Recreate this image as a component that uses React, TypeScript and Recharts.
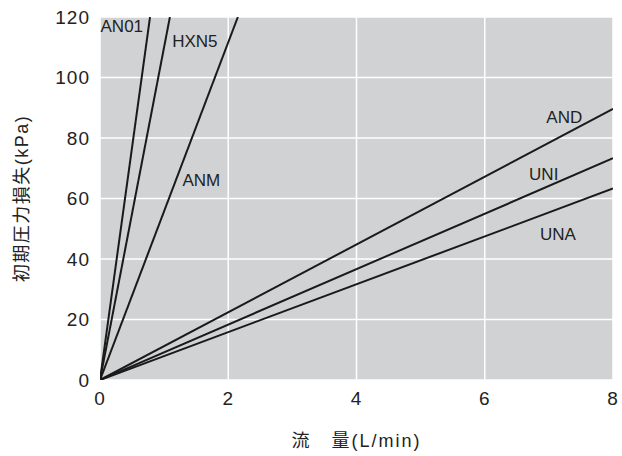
import React from 'react';
import { LineChart, Line, XAxis, YAxis, CartesianGrid, ReferenceDot, Label } from 'recharts';

const xTicks = [0, 2, 4, 6, 8];
const yTicks = [0, 20, 40, 60, 80, 100, 120];

const an01 = [{ x: 0, y: 0 }, { x: 0.78, y: 120 }];
const hxn5 = [{ x: 0, y: 0 }, { x: 1.09, y: 120 }];
const anm = [{ x: 0, y: 0 }, { x: 2.15, y: 120 }];
const andS = [{ x: 0, y: 0 }, { x: 8, y: 89.6 }];
const uni = [{ x: 0, y: 0 }, { x: 8, y: 73.3 }];
const una = [{ x: 0, y: 0 }, { x: 8, y: 63.3 }];

const seriesList = [an01, hxn5, anm, andS, uni, una];

const labelNames = ['AN01', 'HXN5', 'ANM', 'AND', 'UNI', 'UNA'];
const labelX = [0.34, 1.48, 1.58, 7.24, 6.92, 7.14];
const labelY = [117, 112, 66, 87, 68, 48.4];

const FONT = '"Liberation Sans", Arial, sans-serif';
const CJK = '"Liberation Sans", "Noto Sans CJK JP", sans-serif';

export default function App() {
  return (
    <div style={{ position: 'absolute', left: 0, top: 0, width: 622, height: 456, background: '#fff' }}>
      <LineChart width={622} height={456} margin={{ top: 17, right: 9, bottom: 0, left: 0 }}>
        <CartesianGrid fill="#d1d2d4" stroke="#ffffff" strokeWidth={1.5} />
        <XAxis
          type="number"
          dataKey="x"
          domain={[0, 8]}
          ticks={xTicks}
          axisLine={false}
          tickLine={false}
          tickSize={10}
          tickMargin={2}
          height={76}
          tick={{ fill: '#222', fontSize: 19, fontFamily: FONT, letterSpacing: 1 }}
          allowDataOverflow
        >
          <Label value="流　量(L/min)" position="insideBottom" offset={9} style={{ fill: '#222', fontSize: 18, fontFamily: CJK, letterSpacing: 2 }} />
        </XAxis>
        <YAxis
          type="number"
          domain={[0, 120]}
          ticks={yTicks}
          axisLine={false}
          tickLine={false}
          tickSize={8}
          tickMargin={2}
          width={100}
          tick={{ fill: '#222', fontSize: 19, fontFamily: FONT, letterSpacing: 1 }}
          allowDataOverflow
        >
          <Label value="初期圧力損失(kPa)" angle={-90} position="insideLeft" offset={22} style={{ fill: '#222', fontSize: 18, fontFamily: CJK, textAnchor: 'middle', letterSpacing: 1.5 }} />
        </YAxis>
        {seriesList.map((d, i) => (
          <Line key={i} data={d} dataKey="y" type="linear" stroke="#1a1a1a" strokeWidth={2} dot={false} isAnimationActive={false} />
        ))}
        {labelNames.map((n, i) => (
          <ReferenceDot key={n} x={labelX[i]} y={labelY[i]} r={0} fill="none" stroke="none"
            label={{ value: n, position: 'center', fill: '#222', fontSize: 17, fontFamily: FONT }} />
        ))}
      </LineChart>
    </div>
  );
}
